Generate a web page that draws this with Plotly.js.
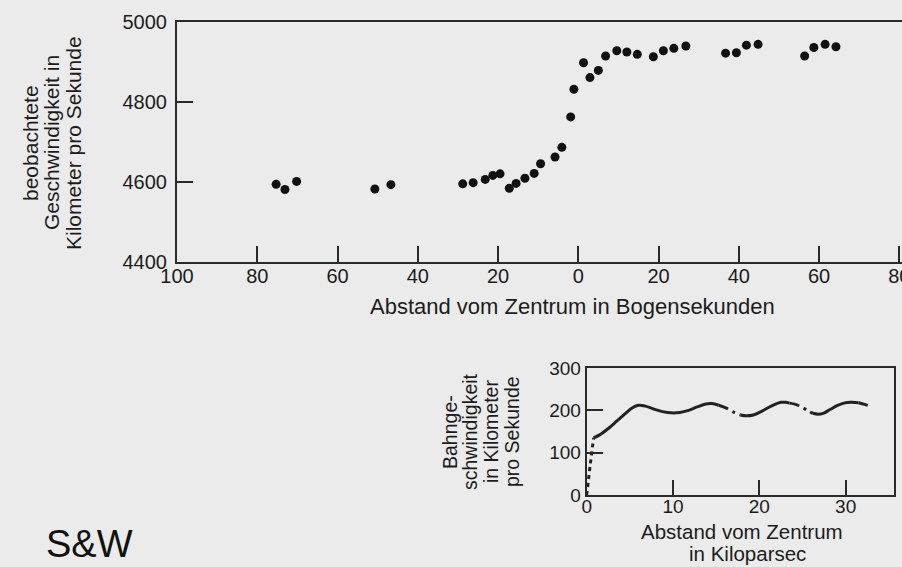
<!DOCTYPE html>
<html>
<head>
<meta charset="utf-8">
<script src="https://cdn.plot.ly/plotly-3.0.1.min.js"></script>
<style>
html,body{margin:0;padding:0;background:#ebebeb;overflow:hidden}
#chart{width:902px;height:567px}
</style>
</head>
<body>
<div id="chart"></div>
<script>
// ---- Data: observed velocities vs. offset from centre (arc seconds; negative = left side)
const offsetArcsec = [-75.3,-73.1,-70.2,-50.7,-46.7,-28.8,-26.2,-23.2,-21.3,-19.5,-17.2,-15.5,-13.3,-11.0,-9.4,-5.8,-4.1,-1.9,-1.1,1.3,2.9,5.0,6.8,9.6,12.1,14.7,18.7,21.2,23.8,26.8,36.7,39.4,41.9,44.8,56.4,58.7,61.5,64.2];
const observedVelocity = [4594,4581,4601,4582,4593,4595,4598,4606,4616,4620,4584,4596,4609,4621,4645,4662,4686,4762,4831,4897,4860,4878,4914,4927,4924,4918,4912,4927,4933,4939,4921,4922,4941,4943,4914,4935,4943,4937];
const xTickVals = [-100,-80,-60,-40,-20,0,20,40,60,80];
const xTickText = ['100','80','60','40','20','0','20','40','60','80'];
const yTickVals = [4400,4600,4800,5000];

// ---- Data: rotation curve (inset)
const radiusKpc = [0.0,0.4,0.8,1.5,2.5,3.5,4.5,5.3,6.0,6.8,7.8,8.8,9.8,10.8,11.8,12.8,13.8,14.5,15.3,16.2,17.0,17.8,18.5,19.3,20.2,21.0,21.8,22.5,23.0,23.5,24.2,25.0,25.6,26.2,26.8,27.4,28.2,29.0,29.8,30.6,31.5,32.2,32.8];
const rotationVelocity = [0,70,135,142,157,175,193,206,212,210,203,197,194,195,200,208,215,216,212,205,196,189,187,189,197,206,214,219,219,217,214,207,199,193,191,193,202,211,217,219,218,214,210];
const innerDottedRange = [0,0.8];
const dashedRanges = [[15.3,17.8],[23.5,26.2],[31.5,33.0]];
const insetXTicks = [0,10,20,30];
const insetYTicks = [0,100,200,300];

// ---- Texts
const yTitleTop = ['beobachtete','Geschwindigkeit in','Kilometer pro Sekunde'];
const xTitleTop = 'Abstand vom Zentrum in Bogensekunden';
const yTitleInset = ['Bahnge-','schwindigkeit','in Kilometer','pro Sekunde'];
const xTitleInset = ['Abstand vom Zentrum','in Kiloparsec'];
const creditText = 'S&W';

const W = 902, H = 567;
const FONT = 'Liberation Sans, Arial, Helvetica, sans-serif';
const INK = '#1c1c1c';
const px = v => v / W;
const py = v => 1 - v / H;

// build rotation-curve segments by style
function styleAt(mid){
  if (mid >= innerDottedRange[0] && mid <= innerDottedRange[1]) return 'inner';
  for (const r of dashedRanges) if (mid >= r[0] && mid <= r[1]) return 'dashed';
  return 'solid';
}
const segs = [];
for (let i = 0; i < radiusKpc.length - 1; i++){
  const s = styleAt((radiusKpc[i] + radiusKpc[i+1]) / 2);
  const last = segs[segs.length - 1];
  if (last && last.style === s){ last.x.push(radiusKpc[i+1]); last.y.push(rotationVelocity[i+1]); }
  else segs.push({style: s, x: [radiusKpc[i], radiusKpc[i+1]], y: [rotationVelocity[i], rotationVelocity[i+1]]});
}
const dashMap = {solid: 'solid', dashed: '10px,5px,3px,5px', inner: '4px,4px'};

const traces = [{
  type: 'scatter', mode: 'markers',
  x: offsetArcsec, y: observedVelocity,
  xaxis: 'x', yaxis: 'y',
  marker: {color: '#111', size: 9, line: {width: 0}},
  hoverinfo: 'x+y', showlegend: false
}];
segs.forEach(s => traces.push({
  type: 'scatter', mode: 'lines', x: s.x, y: s.y, xaxis: 'x2', yaxis: 'y2',
  line: {color: '#222', width: 3, shape: 'spline', dash: dashMap[s.style]},
  showlegend: false, hoverinfo: 'x+y'
}));

const axisCommon = {
  showgrid: false, zeroline: false, showline: true, linecolor: '#2a2a2a', linewidth: 2,
  ticks: 'inside', ticklen: 16, tickwidth: 2, tickcolor: '#2a2a2a',
  tickfont: {family: FONT, size: 20, color: INK}, fixedrange: true
};

const annotations = [];
const yTopX = [30, 51, 73];
yTitleTop.forEach((t, i) => annotations.push({xref:'paper', yref:'paper', x: px(yTopX[i]), y: py(143), text: t, textangle: -90, showarrow:false, xanchor:'center', yanchor:'middle', font:{family: FONT, size: 21, color: INK}}));
annotations.push({xref:'paper', yref:'paper', x: px(572.5), y: py(306.5), text: xTitleTop, showarrow:false, xanchor:'center', yanchor:'middle', font:{family: FONT, size: 22, color: INK}});
const yInX = [450, 470, 491, 512];
yTitleInset.forEach((t, i) => annotations.push({xref:'paper', yref:'paper', x: px(yInX[i]), y: py(432), text: t, textangle: -90, showarrow:false, xanchor:'center', yanchor:'middle', font:{family: FONT, size: 19.5, color: INK}}));
const xInPos = [[741.5, 531],[747, 553]];
xTitleInset.forEach((t, i) => annotations.push({xref:'paper', yref:'paper', x: px(xInPos[i][0]), y: py(xInPos[i][1]), text: t, showarrow:false, xanchor:'center', yanchor:'middle', font:{family: FONT, size: 20.5, color: INK}}));
annotations.push({xref:'paper', yref:'paper', x: px(89), y: py(544), text: creditText, showarrow:false, xanchor:'center', yanchor:'middle', font:{family: FONT, size: 38, color: '#111'}});

const layout = {
  width: W, height: H,
  margin: {l: 0, r: 0, t: 0, b: 0, pad: 0},
  paper_bgcolor: '#ebebeb', plot_bgcolor: '#ebebeb',
  showlegend: false,
  xaxis: Object.assign({}, axisCommon, {
    domain: [px(177), 1], range: [-100, -100 + 725 / 4.013], anchor: 'y',
    tickmode: 'array', tickvals: xTickVals, ticktext: xTickText, mirror: true,
    ticklabelstandoff: -5, ticklabeloverflow: 'allow'
  }),
  yaxis: Object.assign({}, axisCommon, {
    domain: [py(262), py(21.5)], range: [4400, 5000], anchor: 'x',
    tickmode: 'array', tickvals: yTickVals, ticklabelstandoff: 4
  }),
  xaxis2: Object.assign({}, axisCommon, {
    domain: [px(586.7), px(894)], range: [0, 35.6], anchor: 'y2',
    tickmode: 'array', tickvals: insetXTicks, mirror: true, ticklen: 15,
    ticklabelstandoff: -7,
    tickfont: {family: FONT, size: 19, color: INK}
  }),
  yaxis2: Object.assign({}, axisCommon, {
    domain: [py(495), py(368)], range: [0, 300], anchor: 'x2',
    tickmode: 'array', tickvals: insetYTicks, mirror: true,
    tickfont: {family: FONT, size: 19, color: INK}
  }),
  annotations: annotations
};

Plotly.newPlot('chart', traces, layout, {displayModeBar: false});
</script>
</body>
</html>
